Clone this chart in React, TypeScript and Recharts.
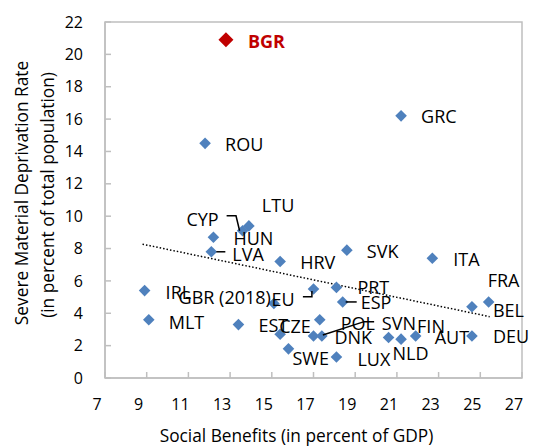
import React from 'react';
import {
  ScatterChart,
  Scatter,
  XAxis,
  YAxis,
  ReferenceLine,
  ReferenceArea,
  Label,
} from 'recharts';

const countries = [
  'BGR', 'GRC', 'ROU', 'CYP', 'LTU', 'HUN', 'LVA', 'HRV', 'SVK', 'ITA',
  'FRA', 'BEL', 'IRL', 'MLT', 'GBR (2018)', 'EU', 'PRT', 'ESP', 'EST', 'CZE',
  'POL', 'DNK', 'SVN', 'SWE', 'LUX', 'NLD', 'FIN', 'AUT', 'DEU',
];
const socialBenefits = [
  12.8, 21.2, 11.8, 13.6, 13.9, 12.2, 12.1, 15.4, 18.6, 22.7,
  25.4, 24.6, 8.9, 9.1, 15.1, 17.0, 18.1, 18.4, 13.4, 15.4,
  17.3, 17.0, 17.4, 15.8, 18.1, 20.6, 21.2, 21.9, 24.6,
];
const deprivation = [
  20.9, 16.2, 14.5, 9.1, 9.4, 8.7, 7.8, 7.2, 7.9, 7.4,
  4.7, 4.4, 5.4, 3.6, 4.6, 5.5, 5.6, 4.7, 3.3, 2.7,
  3.6, 2.6, 2.6, 1.8, 1.3, 2.5, 2.4, 2.6, 2.6,
];
const highlighted = 'BGR';

// fitted trend line end points
const trendX = [8.8, 25.45];
const trendY = [8.27, 3.79];

const xTicks = [7, 9, 11, 13, 15, 17, 19, 21, 23, 25, 27];
const yTicks = [0, 2, 4, 6, 8, 10, 12, 14, 16, 18, 20, 22];

// label placement relative to the marker (px)
type Place = { dx: number; dy: number; end?: boolean; leader?: number[][] };
const placement: Record<string, Place> = {
  BGR: { dx: 22, dy: 1 },
  GRC: { dx: 20, dy: 0 },
  ROU: { dx: 20, dy: 1 },
  CYP: { dx: -24, dy: -12, end: true, leader: [[-16, -15], [-6.6, -15], [-3, 0]] },
  LTU: { dx: 13, dy: -21 },
  HUN: { dx: 20, dy: 1 },
  LVA: { dx: 21, dy: 2, leader: [[5, 0], [14, 0]] },
  HRV: { dx: 20, dy: 1 },
  SVK: { dx: 20, dy: 1 },
  ITA: { dx: 21, dy: 1 },
  FRA: { dx: -1, dy: -22 },
  BEL: { dx: 21, dy: 3 },
  IRL: { dx: 21, dy: 1 },
  MLT: { dx: 20, dy: 2 },
  'GBR (2018)': { dx: -3, dy: -7, end: true },
  EU: { dx: -19, dy: 10, end: true, leader: [[-10.6, 7.7], [-1.6, 7.7], [-1.6, 2]] },
  PRT: { dx: 21, dy: 0 },
  ESP: { dx: 18, dy: 0, leader: [[3, 0], [14, 0]] },
  EST: { dx: 20, dy: 0 },
  CZE: { dx: -1, dy: -8 },
  POL: { dx: 21, dy: 3 },
  DNK: { dx: 21, dy: 1 },
  SVN: { dx: 60, dy: -13, leader: [[1, -1], [42.3, -14.3], [52.3, -14.3]] },
  SWE: { dx: 4, dy: 9 },
  LUX: { dx: 21, dy: 2 },
  NLD: { dx: 4, dy: 15 },
  FIN: { dx: 16, dy: -13 },
  AUT: { dx: 19, dy: 1 },
  DEU: { dx: 21, dy: 0 },
};

const FONT = '"Open Sans", sans-serif';
const BLUE = '#4f81bd';
const RED = '#c00000';
const AXIS = '#bfbfbf';

const rows = countries.map((name, i) => ({
  name,
  x: socialBenefits[i],
  y: deprivation[i],
}));
const others = rows.filter((r) => r.name !== highlighted);
const bgr = rows.filter((r) => r.name === highlighted);

function PointShape(props: any) {
  const { cx, cy, payload } = props;
  const isHi = payload.name === highlighted;
  const r = isHi ? 7.5 : 5.8;
  const p = placement[payload.name] || { dx: 20, dy: 0 };
  return (
    <g>
      <path
        d={`M${cx},${cy - r}L${cx + r},${cy}L${cx},${cy + r}L${cx - r},${cy}Z`}
        fill={isHi ? RED : BLUE}
      />
      {p.leader && (
        <polyline
          points={p.leader.map(([a, b]) => `${cx + a},${cy + b}`).join(' ')}
          fill="none"
          stroke="#000"
          strokeWidth={1.5}
        />
      )}
      <text
        x={cx + p.dx}
        y={cy + p.dy}
        textAnchor={p.end ? 'end' : 'start'}
        dominantBaseline="central"
        fontFamily={FONT}
        fontSize={18}
        fontWeight={isHi ? 700 : 400}
        fill={isHi ? RED : '#000'}
      >
        {payload.name}
      </text>
    </g>
  );
}

export default function App() {
  return (
    <div style={{ position: 'absolute', left: 0, top: 0, width: 534, height: 447, background: '#fff' }}>
      <ScatterChart
        width={534}
        height={447}
        margin={{ top: 22, right: 12, left: 0, bottom: 0 }}
      >
        <XAxis
          type="number"
          dataKey="x"
          domain={[7, 27]}
          ticks={xTicks}
          interval={0}
          height={69}
          tickSize={-6}
          tickMargin={27}
          axisLine={{ stroke: AXIS, strokeWidth: 1.5 }}
          tickLine={{ stroke: AXIS, strokeWidth: 1.5 }}
          tick={{ fill: '#000', fontSize: 16, fontFamily: FONT, dx: -8 }}
        >
          <Label
            value="Social Benefits (in percent of GDP)"
            position="insideBottom"
            offset={5}
            dx={-17}
            style={{ fill: '#000', fontSize: 17.3, fontFamily: FONT }}
          />
        </XAxis>
        <YAxis
          type="number"
          dataKey="y"
          domain={[0, 22]}
          ticks={yTicks}
          interval={0}
          width={105}
          tickSize={-6}
          tickMargin={28}
          axisLine={{ stroke: AXIS, strokeWidth: 1.5 }}
          tickLine={{ stroke: AXIS, strokeWidth: 1.5 }}
          tick={{ fill: '#000', fontSize: 16, fontFamily: FONT }}
          label={{
            content: () => (
              <g>
                <text
                  x={21}
                  y={193}
                  transform="rotate(-90 21 193)"
                  textAnchor="middle"
                  dominantBaseline="central"
                  fontFamily={FONT}
                  fontSize={17.3}
                  fill="#000"
                >
                  Severe Material Deprivation Rate
                </text>
                <text
                  x={47}
                  y={195}
                  transform="rotate(-90 47 195)"
                  textAnchor="middle"
                  dominantBaseline="central"
                  fontFamily={FONT}
                  fontSize={17.3}
                  fill="#000"
                >
                  (in percent of total population)
                </text>
              </g>
            ),
          }}
        />
        <ReferenceArea
          x1={7}
          x2={27}
          y1={0}
          y2={22}
          fill="none"
          stroke={AXIS}
          strokeWidth={1.5}
          fillOpacity={0}
        />
        <ReferenceLine
          segment={[
            { x: trendX[0], y: trendY[0] },
            { x: trendX[1], y: trendY[1] },
          ]}
          stroke="#000"
          strokeWidth={1.5}
          strokeDasharray="1.5 2"
        />
        <Scatter data={others} shape={<PointShape />} isAnimationActive={false} />
        <Scatter data={bgr} shape={<PointShape />} isAnimationActive={false} />
      </ScatterChart>
    </div>
  );
}
